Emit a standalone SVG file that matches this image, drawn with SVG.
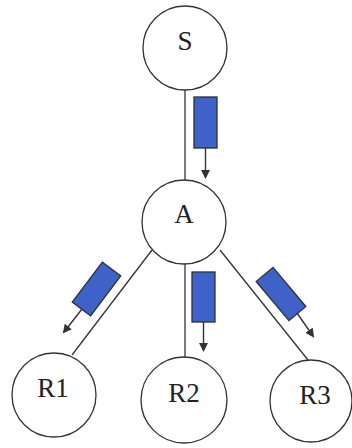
<svg xmlns="http://www.w3.org/2000/svg" width="352" height="448" viewBox="0 0 352 448">
<defs>
<style>
.node circle{fill:#fff;stroke:#333;stroke-width:1.3}
.node text{font-family:'Liberation Serif',Times,serif;font-size:27px;fill:#222;text-anchor:middle}
.edge{stroke:#333;stroke-width:1.3;fill:none}
.pkt{fill:#3f62c9;stroke:#2a2f3a;stroke-width:1.3}
.arr{stroke:#333;stroke-width:1.4;fill:none;marker-end:url(#ah)}
</style>
<marker id="ah" markerWidth="10" markerHeight="10" refX="7" refY="4.5" orient="auto" markerUnits="userSpaceOnUse">
<path d="M0,0 L9,4.5 L0,9 Z" fill="#333"/>
</marker>
</defs>
<rect width="352" height="448" fill="#fff"/>
<g id="connectors">
<line class="edge" x1="185" y1="90" x2="185" y2="180"/>
<line class="edge" x1="152" y1="250" x2="72" y2="355"/>
<line class="edge" x1="185" y1="264" x2="185" y2="357"/>
<line class="edge" x1="220" y1="250" x2="308" y2="360"/>
</g>
<g id="packets">
<rect class="pkt" x="194" y="97" width="23" height="51"/>
<line class="arr" x1="205.5" y1="148" x2="205.5" y2="177"/>
<rect class="pkt" x="192" y="272" width="23" height="50"/>
<line class="arr" x1="203.5" y1="322" x2="203.5" y2="350"/>
<g transform="translate(96.5,289) rotate(37)">
<rect class="pkt" x="-11.5" y="-25" width="23" height="50"/>
</g>
<line class="arr" x1="82" y1="309" x2="64" y2="332"/>
<g transform="translate(281,294) rotate(-40)">
<rect class="pkt" x="-11" y="-25.5" width="22" height="51"/>
</g>
<line class="arr" x1="297" y1="313" x2="313" y2="336"/>
</g>
<g id="S" class="node"><circle cx="185" cy="48" r="42"/><text x="185" y="50">S</text></g>
<g id="A" class="node"><circle cx="184" cy="222" r="42"/><text x="184" y="223">A</text></g>
<g id="R1" class="node"><circle cx="54" cy="395" r="42"/><text x="53" y="397">R1</text></g>
<g id="R2" class="node"><circle cx="184" cy="400" r="43"/><text x="184" y="402">R2</text></g>
<g id="R3" class="node"><circle cx="311" cy="401" r="41"/><text x="315" y="404">R3</text></g>
</svg>
